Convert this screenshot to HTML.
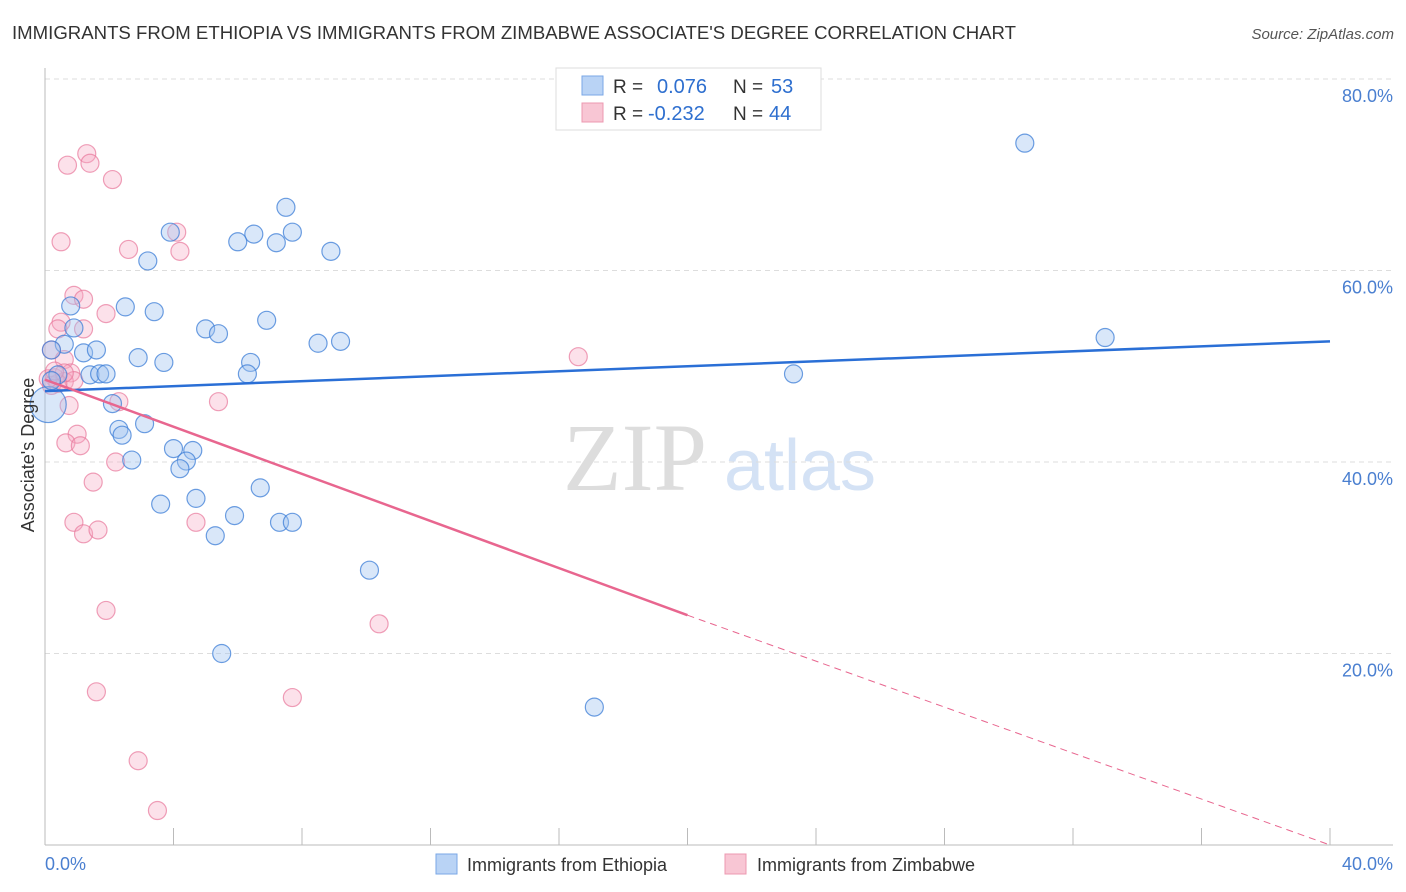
<!DOCTYPE html>
<html><head><meta charset="utf-8">
<style>
body{margin:0;background:#fff;font-family:"Liberation Sans",sans-serif;}
#wrap{position:relative;width:1406px;height:892px;overflow:hidden;}
</style></head>
<body>
<div id="wrap">
<svg id="svg" width="1406" height="892" xmlns="http://www.w3.org/2000/svg">
<text x="12" y="39" font-size="18" fill="#333" textLength="1004" lengthAdjust="spacingAndGlyphs">IMMIGRANTS FROM ETHIOPIA VS IMMIGRANTS FROM ZIMBABWE ASSOCIATE'S DEGREE CORRELATION CHART</text>
<text x="1394" y="39" font-size="15" fill="#555" font-style="italic" text-anchor="end">Source: ZipAtlas.com</text>
<text x="635" y="490" font-size="96" fill="#ddd" font-family="Liberation Serif,serif" text-anchor="middle">ZIP</text>
<text x="800" y="490" font-size="72" fill="#d4e2f5" text-anchor="middle">atlas</text>
<g id="grid"></g><g id="marks"></g>
<text transform="translate(34,455) rotate(-90)" font-size="18" fill="#333" text-anchor="middle">Associate's Degree</text>
<text x="45" y="870" font-size="18" fill="#4a7fd0">0.0%</text>
<text x="1393" y="870" font-size="18" fill="#4a7fd0" text-anchor="end">40.0%</text>
<g>
<rect x="556" y="68" width="265" height="62" fill="#fff" stroke="#ddd"/>
<rect x="582" y="76" width="21" height="19" fill="#b9d3f5" stroke="#7aa7e6"/>
<rect x="582" y="103" width="21" height="19" fill="#f8c6d4" stroke="#ec98b0"/>
<text x="613" y="93" font-size="19" fill="#333">R = </text><text x="657" y="93" font-size="20" fill="#2e6fcf">0.076</text>
<text x="733" y="93" font-size="19" fill="#333">N = </text><text x="771" y="93" font-size="20" fill="#2e6fcf">53</text>
<text x="613" y="120" font-size="19" fill="#333">R = </text><text x="648" y="120" font-size="20" fill="#2e6fcf">-0.232</text>
<text x="733" y="120" font-size="19" fill="#333">N = </text><text x="769" y="120" font-size="20" fill="#2e6fcf">44</text>
</g>
<g><rect x="436" y="854" width="21" height="20" fill="#b9d3f5" stroke="#7aa7e6"/><text x="467" y="871" font-size="18" fill="#333">Immigrants from Ethiopia</text></g>
<g><rect x="725" y="854" width="21" height="20" fill="#f8c6d4" stroke="#ec98b0"/><text x="757" y="871" font-size="18" fill="#333">Immigrants from Zimbabwe</text></g>
</svg>
</div>
<script>
const yTicks=[20,40,60,80];
const xTicks=[0,4,8,12,16,20,24,28,32,36,40];
const ethX=[30.5,33.0,23.3,17.1,10.1,5.5,7.5,7.7,8.9,6.5,6.0,7.2,3.9,3.2,6.9,5.0,5.4,8.5,9.2,2.5,3.4,0.8,0.9,0.6,0.2,1.2,1.6,2.9,3.7,6.4,6.3,1.4,1.7,1.9,2.1,2.3,2.4,3.1,2.7,4.0,4.6,4.4,4.2,3.6,4.7,5.9,5.3,6.7,7.3,7.7,0.1,0.4,0.2];
const ethY=[73.3,53.0,49.2,14.4,28.7,20.0,66.6,64.0,62.0,63.8,63.0,62.9,64.0,61.0,54.8,53.9,53.4,52.4,52.6,56.2,55.7,56.3,54.0,52.3,51.7,51.4,51.7,50.9,50.4,50.4,49.2,49.1,49.2,49.2,46.1,43.4,42.8,44.0,40.2,41.4,41.2,40.1,39.3,35.6,36.2,34.4,32.3,37.3,33.7,33.7,46.0,49.1,48.5];
const ethR=[9,9,9,9,9,9,9,9,9,9,9,9,9,9,9,9,9,9,9,9,9,9,9,9,9,9,9,9,9,9,9,9,9,9,9,9,9,9,9,9,9,9,9,9,9,9,9,9,9,9,18,9,9];
const zimX=[0.7,1.3,1.4,2.1,0.5,2.6,4.2,4.1,0.5,0.9,1.2,1.9,1.2,0.4,0.2,0.6,0.3,0.8,0.6,0.9,0.2,0.75,2.3,5.4,16.6,1.0,0.65,1.1,2.2,1.5,0.9,1.2,1.65,4.7,1.9,10.4,1.6,7.7,2.9,3.5,0.4,0.1,0.6,0.3];
const zimY=[71.0,72.2,71.2,69.5,63.0,62.2,62.0,64.0,54.6,57.4,57.0,55.5,53.9,53.9,51.7,50.7,48.8,49.3,48.4,48.5,48.0,45.9,46.3,46.3,51.0,42.9,42.0,41.7,40.0,37.9,33.7,32.5,32.9,33.7,24.5,23.1,16.0,15.4,8.8,3.6,48.2,48.7,49.3,49.5];
const ethLine=[[0,47.4],[40,52.6]];
const zimLine=[[0,48.6],[20,24.0],[40,0.0]];
const X=v=>45+v/40*1285, Y=v=>845-v/20*191.5;
const ns="http://www.w3.org/2000/svg";
function mk(tag,at,parent){const e=document.createElementNS(ns,tag);for(const k in at)e.setAttribute(k,at[k]);parent.appendChild(e);return e;}
const g=document.getElementById('grid'), m=document.getElementById('marks');
yTicks.forEach(t=>{
 const l=mk('line',{x1:45,x2:1393,y1:Y(t),y2:Y(t),stroke:'#ddd','stroke-dasharray':'5,4'},g);
 
 
 const tx=mk('text',{x:1393,y:Y(t)+23,'font-size':18,fill:'#4a7fd0','text-anchor':'end'},g);
 tx.textContent=t.toFixed(1)+'%';
 
 
});
const ax=mk('line',{x1:45,x2:45,y1:68,y2:845,stroke:'#bbb'},g);


const bx=mk('line',{x1:45,x2:1393,y1:845,y2:845,stroke:'#bbb'},g);


xTicks.forEach(t=>{
 const l=mk('line',{x1:X(t),x2:X(t),y1:828,y2:845,stroke:'#bbb'},g);
 
 
});
zimX.forEach((v,i)=>{
 const c=mk('circle',{cx:X(v),cy:Y(zimY[i]),r:9,fill:'rgba(246,170,195,0.35)',stroke:'rgba(232,120,155,0.7)','stroke-width':1.2},m);
 
 
});
ethX.forEach((v,i)=>{
 const c=mk('circle',{cx:X(v),cy:Y(ethY[i]),r:ethR[i],fill:'rgba(160,196,240,0.4)',stroke:'rgba(60,125,215,0.75)','stroke-width':1.2},m);
 
 
});
const bl=mk('line',{x1:X(ethLine[0][0]),y1:Y(ethLine[0][1]),x2:X(ethLine[1][0]),y2:Y(ethLine[1][1]),stroke:'#2a6fd6','stroke-width':2.5},m);


const pl=mk('line',{x1:X(zimLine[0][0]),y1:Y(zimLine[0][1]),x2:X(zimLine[1][0]),y2:Y(zimLine[1][1]),stroke:'#e8668f','stroke-width':2.5},m);


const pd=mk('line',{x1:X(zimLine[1][0]),y1:Y(zimLine[1][1]),x2:X(zimLine[2][0]),y2:Y(zimLine[2][1]),stroke:'#e8668f','stroke-width':1,'stroke-dasharray':'7,5'},m);


</script>
</body></html>
